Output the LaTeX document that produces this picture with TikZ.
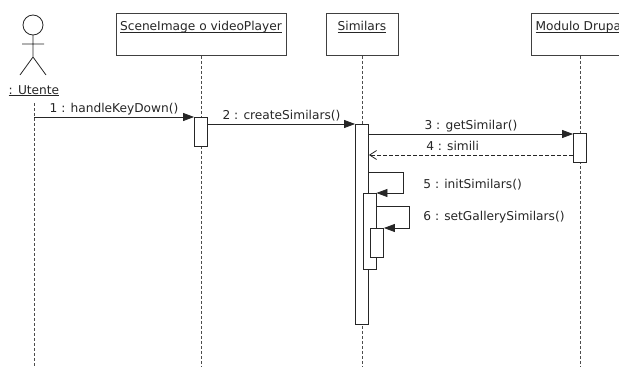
\documentclass[tikz,border=0pt]{standalone}
\usepackage{fontspec}
\setmainfont{DejaVu Sans}
\usetikzlibrary{arrows.meta}
\newcommand{\ulname}[1]{\setbox0\hbox{#1}\rlap{\rule[-2pt]{\wd0}{0.7pt}}\box0}
\begin{document}
\begin{tikzpicture}[x=1pt, y=-1pt, font=\fontsize{12.2}{14}\selectfont, color=black!85, line width=0.8pt,
headBox/.style={rectangle, draw=black!75, fill=white, text height=13.5pt, text depth=20.5pt, inner xsep=2pt, inner ysep=4pt, anchor=north},
actBar/.style={rectangle, draw=black!85, fill=white, minimum width=13pt, inner sep=0pt, anchor=north},
lifeLine/.style={draw=black!70, dash pattern=on 3pt off 2pt},
msgCall/.style={draw=black!85, -{Triangle[length=11pt, width=8pt]}},
msgReturn/.style={draw=black!85, dash pattern=on 4pt off 2pt, -{Straight Barb[length=7pt, width=9pt]}},
msgLabel/.style={anchor=base, yshift=4.5pt, inner sep=0pt},
sideLabel/.style={anchor=base west, inner sep=0pt}]

\clip (0,0) rectangle (619,367);
\coordinate (bottom) at (0,367);

% actor
\draw[black!85] (33,25) circle (10pt);
\draw[black!85] (33,35) -- (33,57) (22,44) -- (44,44) (20,75) -- (33,57) -- (46,75);
\node[inner sep=0pt, anchor=base] (utente) at (34,94) {\ulname{: Utente}};

\node[headBox, minimum width=170pt] (scene) at (201,13) {\ulname{SceneImage o videoPlayer}};
\node[headBox, minimum width=72pt] (similars) at (362,13) {\ulname{Similars}};
\node[headBox, minimum width=98pt] (drupal) at (580,13) {\ulname{Modulo Drupal}};

\draw[lifeLine] ([yshift=-7pt]utente.south) -- (utente.south |- bottom);
\draw[lifeLine] (scene.south) -- (scene.south |- bottom);
\draw[lifeLine] (similars.south) -- (similars.south |- bottom);
\draw[lifeLine] (drupal.south) -- (drupal.south |- bottom);

\node[actBar, minimum height=29pt] (sceneAct) at (201,117) {};
\node[actBar, minimum height=200pt] (simAct) at (362,124) {};
\node[actBar, minimum height=29pt] (drupalAct) at (580,133) {};
\node[actBar, minimum height=76pt] (initAct) at (369.5,193) {};
\node[actBar, minimum height=29pt] (galleryAct) at (377,228) {};

\draw[msgCall] (utente.south |- sceneAct.north) -- node[msgLabel] (m1) {1 : handleKeyDown()} (sceneAct.north west);
\draw[msgCall] ([yshift=-7pt]sceneAct.north east) -- node[msgLabel] (m2) {2 : createSimilars()} (simAct.north west);
\draw[msgCall] ([yshift=-10pt]simAct.north east) -- node[msgLabel] (m3) {3 : getSimilar()} ([yshift=-1pt]drupalAct.north west);
\draw[msgReturn] ([yshift=-22pt]drupalAct.north west) coordinate (r4) -- node[msgLabel, pos=0.59] (m4) {4 : simili} (simAct.east |- r4);
\draw[msgCall] ([yshift=-48pt]simAct.north east) -- ++(34,0) |- (initAct.north east);
\draw[msgCall] ([yshift=-13pt]initAct.north east) -- ++(33,0) |- (galleryAct.north east);

\node[sideLabel] (m5) at (423,188) {5 : initSimilars()};
\node[sideLabel] (m6) at (423,220) {6 : setGallerySimilars()};

\end{tikzpicture}
\end{document}
